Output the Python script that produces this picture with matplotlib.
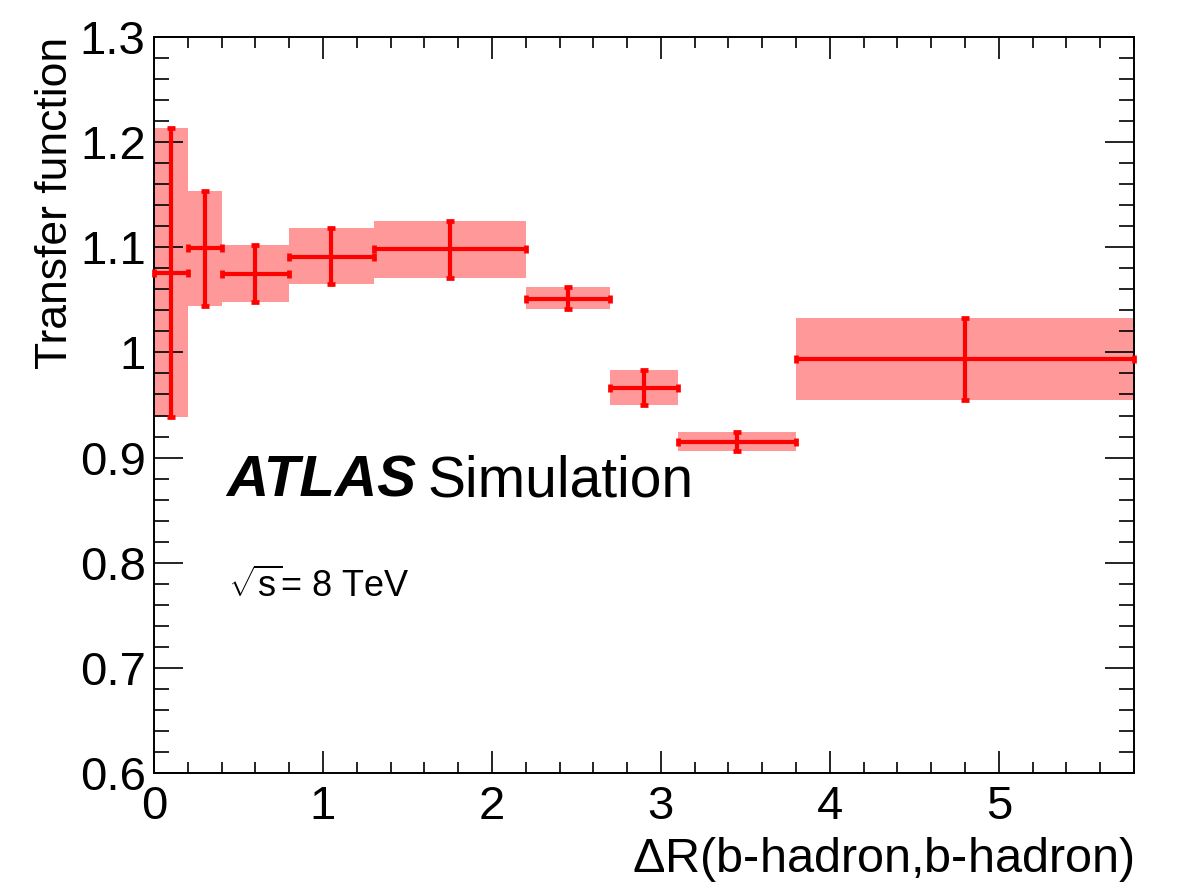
import numpy as np
import matplotlib
matplotlib.use("Agg")
import matplotlib.pyplot as plt
from matplotlib.ticker import MultipleLocator

plt.rcParams['font.family'] = ['Liberation Sans', 'DejaVu Sans']
plt.rcParams['mathtext.fontset'] = 'custom'
plt.rcParams['mathtext.rm'] = 'Liberation Sans'

# bin edges in dR(b-hadron, b-hadron)
bin_lo = [0.0, 0.2, 0.4, 0.8, 1.3, 2.2, 2.7, 3.1, 3.8]
bin_hi = [0.2, 0.4, 0.8, 1.3, 2.2, 2.7, 3.1, 3.8, 5.8]
# transfer function values and uncertainties
tf = [1.076, 1.099, 1.075, 1.091, 1.098, 1.051, 0.966, 0.915, 0.994]
err_up = [0.137, 0.055, 0.027, 0.027, 0.027, 0.011, 0.017, 0.009, 0.039]
err_down = [0.137, 0.055, 0.027, 0.026, 0.027, 0.010, 0.016, 0.009, 0.039]

lo = np.array(bin_lo)
hi = np.array(bin_hi)
y = np.array(tf)
eu = np.array(err_up)
ed = np.array(err_down)
xc = 0.5 * (lo + hi)
hw = 0.5 * (hi - lo)

fig = plt.figure(figsize=(11.82, 8.90), dpi=100)
ax = fig.add_axes([0.1303, 0.1315, 0.8291, 0.8269])

# uncertainty band
ax.bar(lo, eu + ed, width=hi - lo, bottom=y - ed, align='edge',
       color='#ff9999', linewidth=0, zorder=1)

ax.errorbar(xc, y, xerr=hw, yerr=[ed, eu], fmt='none', ecolor='#ff0000',
            elinewidth=3.0, capsize=2.8, capthick=3.4, zorder=3, clip_on=False)

ax.set_xlim(0, 5.8)
ax.set_ylim(0.6, 1.3)
ax.xaxis.set_major_locator(MultipleLocator(1))
ax.xaxis.set_minor_locator(MultipleLocator(0.2))
ax.yaxis.set_major_locator(MultipleLocator(0.1))
ax.yaxis.set_minor_locator(MultipleLocator(0.02))
ax.yaxis.set_major_formatter(plt.FuncFormatter(lambda v, p: "1" if abs(v - 1) < 1e-6 else f"{v:.1f}"))

for s in ax.spines.values():
    s.set_linewidth(1.4)
ax.tick_params(axis='both', which='both', direction='in', top=True, right=True,
               labelsize=34, width=1.2, colors='black')
ax.tick_params(axis='x', which='major', length=16, pad=9)
ax.tick_params(axis='x', which='minor', length=8)
ax.tick_params(axis='y', which='major', length=21, pad=6)
ax.tick_params(axis='y', which='minor', length=10.5)

ax.set_ylabel("Transfer function", fontsize=32, loc='top', labelpad=3)
ax.set_xlabel(r"$\Delta$R(b-hadron,b-hadron)", fontsize=35, loc='right', labelpad=4)

ax.text(0.074, 0.375, "ATLAS", transform=ax.transAxes, fontsize=42,
        fontweight='bold', fontstyle='italic', va='baseline')
ax.text(0.279, 0.375, "Simulation", transform=ax.transAxes, fontsize=41,
        va='baseline')
ax.text(0.075, 0.239, r"$\sqrt{\mathrm{s}}$= 8 TeV", transform=ax.transAxes,
        fontsize=26, va='baseline')

fig.savefig("out.png", dpi=100)
